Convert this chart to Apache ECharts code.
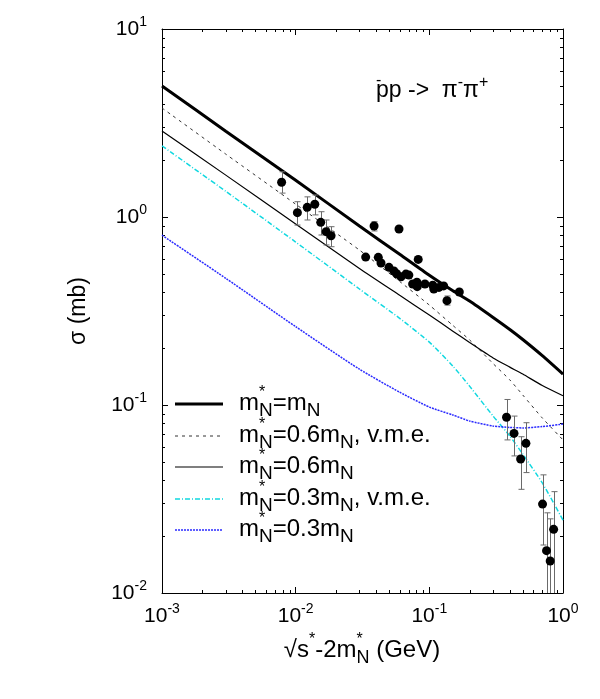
<!DOCTYPE html>
<html>
<head>
<meta charset="utf-8">
<script src="https://cdn.jsdelivr.net/npm/echarts@6/dist/echarts.min.js"></script>
<style>
  html, body { margin: 0; padding: 0; background: #fff; }
  #chart { width: 600px; height: 699px; }
</style>
</head>
<body>
<div id="chart"></div>
<script>
const xGrid = [0.001, 0.003, 0.01, 0.03, 0.06, 0.1, 0.15, 0.2, 0.3, 0.4, 0.5, 0.7, 1];

// sigma (mb) for each model
const sigFree   = [4.98, 2.86, 1.57, 0.895, 0.634, 0.49, 0.405, 0.357, 0.292, 0.252, 0.223, 0.183, 0.146];
const sig06vme  = [3.80, 2.16, 1.17, 0.667, 0.454, 0.340, 0.265, 0.222, 0.166, 0.136, 0.113, 0.0853, 0.0652];
const sig06     = [2.87, 1.67, 0.918, 0.532, 0.383, 0.301, 0.247, 0.215, 0.178, 0.159, 0.146, 0.127, 0.112];
const sig03vme  = [2.39, 1.37, 0.736, 0.414, 0.289, 0.216, 0.161, 0.126, 0.0873, 0.0684, 0.0548, 0.0385, 0.0244];
const sig03     = [0.80, 0.472, 0.261, 0.155, 0.117, 0.0975, 0.0885, 0.0822, 0.0773, 0.076, 0.0755, 0.0768, 0.0792];

// experimental points, error bars (null = no bar drawn)
const expX  = [0.00785, 0.0103, 0.0122, 0.0139, 0.0154, 0.0169, 0.0184, 0.0334, 0.0386, 0.0415,
               0.0435, 0.0499, 0.0543, 0.0569, 0.0593, 0.0614, 0.0668, 0.0703, 0.075, 0.0807,
               0.0812, 0.0826, 0.0927, 0.106, 0.108, 0.118, 0.128, 0.1355, 0.1676,
               0.378, 0.43, 0.482, 0.528, 0.703, 0.753, 0.802, 0.851];
const expY  = [1.53, 1.055, 1.126, 1.169, 0.937, 0.836, 0.795, 0.612, 0.896, 0.61,
               0.569, 0.54, 0.516, 0.499, 0.863, 0.481, 0.497, 0.491, 0.44, 0.45,
               0.426, 0.595, 0.44, 0.434, 0.414, 0.422, 0.43, 0.359, 0.399,
               0.0861, 0.0706, 0.0516, 0.0625, 0.0297, 0.0168, 0.0148, 0.0218];
const expLo = [1.34, 0.906, 0.964, 1.026, 0.802, 0.71, 0.695, null, 0.843, null,
               null, null, null, null, null, null, null, null, null, null,
               null, null, null, null, null, null, null, 0.34, null,
               0.0652, 0.0536, 0.0356, 0.0437, 0.018, 0.009, 0.009, 0.009];
const expHi = [1.74, 1.206, 1.28, 1.31, 1.067, 0.964, 0.888, null, 0.944, null,
               null, null, null, null, null, null, null, null, null, null,
               null, null, null, null, null, null, null, 0.38, null,
               0.107, 0.0873, 0.0678, 0.0805, 0.0425, 0.0267, 0.0248, 0.0346];

// axes
const xRange = [0.001, 1];
const yRange = [0.01, 10];
const minorMantissa = [2, 3, 4, 5, 6, 7, 8, 9];
const xDecades = [0.001, 0.01, 0.1];
const yDecades = [0.01, 0.1, 1];

// legend rows: value of m*/mN and whether v.m.e. is included
const legendFactor = ['', '0.6', '0.6', '0.3', '0.3'];
const legendVme    = [false, true, false, true, false];

const FONT = '"Liberation Sans", Arial, Helvetica, sans-serif';

const measureCtx = document.createElement('canvas').getContext('2d');
function measure(t, size) {
    measureCtx.font = size + 'px ' + FONT;
    return measureCtx.measureText(t).width;
}

// lay out text pieces [text, size, dy, stackWithNext] left to right
function runText(x0, yMid, pieces, center) {
    let total = 0, pend = 0;
    pieces.forEach(p => {
        const w = measure(p[0], p[1]);
        if (p[3]) pend = w; else { total += Math.max(w, pend); pend = 0; }
    });
    let cx = center ? x0 - total / 2 : x0;
    pend = 0;
    const out = [];
    pieces.forEach(p => {
        const w = measure(p[0], p[1]);
        out.push({
            type: 'text', x: cx, y: yMid + p[2], silent: true, z: 100,
            style: {
                text: p[0], font: p[1] + 'px ' + FONT, fill: '#000',
                align: 'left', verticalAlign: 'middle',
                textAlign: 'left', textVerticalAlign: 'middle'
            }
        });
        if (p[3]) pend = w; else { cx += Math.max(w, pend); pend = 0; }
    });
    return out;
}

function curve(name, ys, lineStyle) {
    return {
        name: name, type: 'line',
        data: xGrid.map((x, i) => [x, ys[i]]),
        showSymbol: false, symbol: 'none', smooth: 0.2,
        lineStyle: lineStyle, silent: true, z: 2
    };
}

function drawChart() {
    let myChart = echarts.init(document.getElementById('chart'));

    const lineStyles = [
        { color: '#000', width: 3, type: 'solid' },
        { color: '#333', width: 1, type: [3, 4] },
        { color: '#000', width: 1.2, type: 'solid' },
        { color: '#10d8e0', width: 1.5, type: [5, 2, 1, 2] },
        { color: '#2a2aff', width: 1.5, type: [2, 1] }
    ];

    const minorX = [], minorY = [];
    xDecades.forEach(d => minorMantissa.forEach(m => minorX.push([m * d, yRange[0]])));
    yDecades.forEach(d => minorMantissa.forEach(m => minorY.push([xRange[0], m * d])));

    const errData = [];
    expX.forEach((x, i) => {
        if (expLo[i] !== null) errData.push([x, expY[i], expLo[i], expHi[i]]);
    });

    const richLabel = {
        b: { fontSize: 21, fontFamily: FONT, color: '#000' },
        s: { fontSize: 14, fontFamily: FONT, color: '#000', padding: [0, 0, 14, 0] }
    };
    const expFormatter = v => '{b|10}{s|' + Math.round(Math.log10(v)) + '}';

    const logAxis = (range, extra) => Object.assign({
        type: 'log', logBase: 10, min: range[0], max: range[1],
        splitLine: { show: false },
        axisLine: { show: true, lineStyle: { color: '#000', width: 1 } },
        axisTick: { show: true, inside: true, length: 6, lineStyle: { color: '#000' } },
        minorTick: { show: false }
    }, extra);

    // legend graphics
    const legendRows = [404, 436, 467, 499, 530];
    const graphics = [];
    legendRows.forEach((ry, i) => {
        const ls = lineStyles[i];
        graphics.push({
            type: 'line', silent: true, z: 100,
            shape: { x1: 175, y1: ry, x2: 223, y2: ry },
            style: {
                stroke: ls.color, lineWidth: ls.width,
                lineDash: Array.isArray(ls.type) ? ls.type : null
            }
        });
        const pieces = [
            ['m', 24, 0], ['*', 16, -10, true], ['N', 19, 8],
            ['=' + legendFactor[i] + 'm', 24, 0], ['N', 19, 8]
        ];
        if (legendVme[i]) pieces.push([', v.m.e.', 24, 0]);
        runText(239, ry - 1, pieces, false).forEach(g => graphics.push(g));
    });

    // reaction label
    runText(376, 91, [
        ['-', 16, -10, true], ['p', 23, 0], ['p ->  \u03c0', 23, 0],
        ['-', 16, -8], ['\u03c0', 23, 0], ['+', 16, -8]
    ], false).forEach(g => graphics.push(g));

    // x-axis title
    runText(362, 650, [
        ['\u221as', 24, 0], ['*', 16, -10], ['-2m', 24, 0],
        ['*', 16, -10, true], ['N', 18, 8], [' (GeV)', 24, 0]
    ], true).forEach(g => graphics.push(g));

    let option = {
        animation: false,
        backgroundColor: '#fff',
        textStyle: { fontFamily: FONT },
        grid: { left: 162, right: 37, top: 29, bottom: 106, containLabel: false, outerBoundsMode: 'none' },
        xAxis: [
            logAxis(xRange, {
                position: 'bottom',
                axisLabel: { margin: 9, formatter: expFormatter, rich: richLabel }
            }),
            logAxis(xRange, { position: 'top', axisLabel: { show: false } })
        ],
        yAxis: [
            logAxis(yRange, {
                position: 'left',
                name: '\u03c3 (mb)', nameLocation: 'middle', nameGap: 72, nameRotate: 90,
                nameTextStyle: { fontSize: 23, fontFamily: FONT, color: '#000' },
                axisLabel: { margin: 15, formatter: expFormatter, rich: richLabel }
            }),
            logAxis(yRange, { position: 'right', axisLabel: { show: false } })
        ],
        graphic: graphics,
        series: [
            curve('m*=mN', sigFree, lineStyles[0]),
            curve('m*=0.6mN, v.m.e.', sig06vme, lineStyles[1]),
            curve('m*=0.6mN', sig06, lineStyles[2]),
            curve('m*=0.3mN, v.m.e.', sig03vme, lineStyles[3]),
            curve('m*=0.3mN', sig03, lineStyles[4]),
            {
                // minor ticks on bottom and top
                type: 'custom', silent: true, data: minorX, encode: { x: 0, y: 1 },
                renderItem: (params, api) => {
                    const b = api.coord([api.value(0), yRange[0]]);
                    const t = api.coord([api.value(0), yRange[1]]);
                    const x = Math.round(b[0]) + 0.5;
                    return { type: 'group', children: [
                        { type: 'line', shape: { x1: x, y1: b[1], x2: x, y2: b[1] - 3 }, style: { stroke: '#000', lineWidth: 1 } },
                        { type: 'line', shape: { x1: x, y1: t[1], x2: x, y2: t[1] + 3 }, style: { stroke: '#000', lineWidth: 1 } }
                    ] };
                }
            },
            {
                // minor ticks on left and right
                type: 'custom', silent: true, data: minorY, encode: { x: 0, y: 1 },
                renderItem: (params, api) => {
                    const l = api.coord([xRange[0], api.value(1)]);
                    const r = api.coord([xRange[1], api.value(1)]);
                    const y = Math.round(l[1]) + 0.5;
                    return { type: 'group', children: [
                        { type: 'line', shape: { x1: l[0], y1: y, x2: l[0] + 3, y2: y }, style: { stroke: '#000', lineWidth: 1 } },
                        { type: 'line', shape: { x1: r[0], y1: y, x2: r[0] - 3, y2: y }, style: { stroke: '#000', lineWidth: 1 } }
                    ] };
                }
            },
            {
                // error bars
                type: 'custom', silent: true, clip: true, z: 3,
                data: errData, encode: { x: 0, y: 1 },
                renderItem: (params, api) => {
                    const lo = api.coord([api.value(0), api.value(2)]);
                    const hi = api.coord([api.value(0), api.value(3)]);
                    const x = Math.round(lo[0]) + 0.5;
                    const st = { stroke: '#6a6a6a', lineWidth: 1 };
                    return { type: 'group', children: [
                        { type: 'line', shape: { x1: x, y1: lo[1], x2: x, y2: hi[1] }, style: st },
                        { type: 'line', shape: { x1: x - 3, y1: lo[1], x2: x + 3, y2: lo[1] }, style: st },
                        { type: 'line', shape: { x1: x - 3, y1: hi[1], x2: x + 3, y2: hi[1] }, style: st }
                    ] };
                }
            },
            {
                name: 'data', type: 'scatter', z: 4, silent: true,
                data: expX.map((x, i) => [x, expY[i]]),
                symbol: 'circle', symbolSize: 9,
                itemStyle: { color: '#000', opacity: 1 }
            }
        ]
    };

    myChart.setOption(option);
}

drawChart();
</script>
</body>
</html>
